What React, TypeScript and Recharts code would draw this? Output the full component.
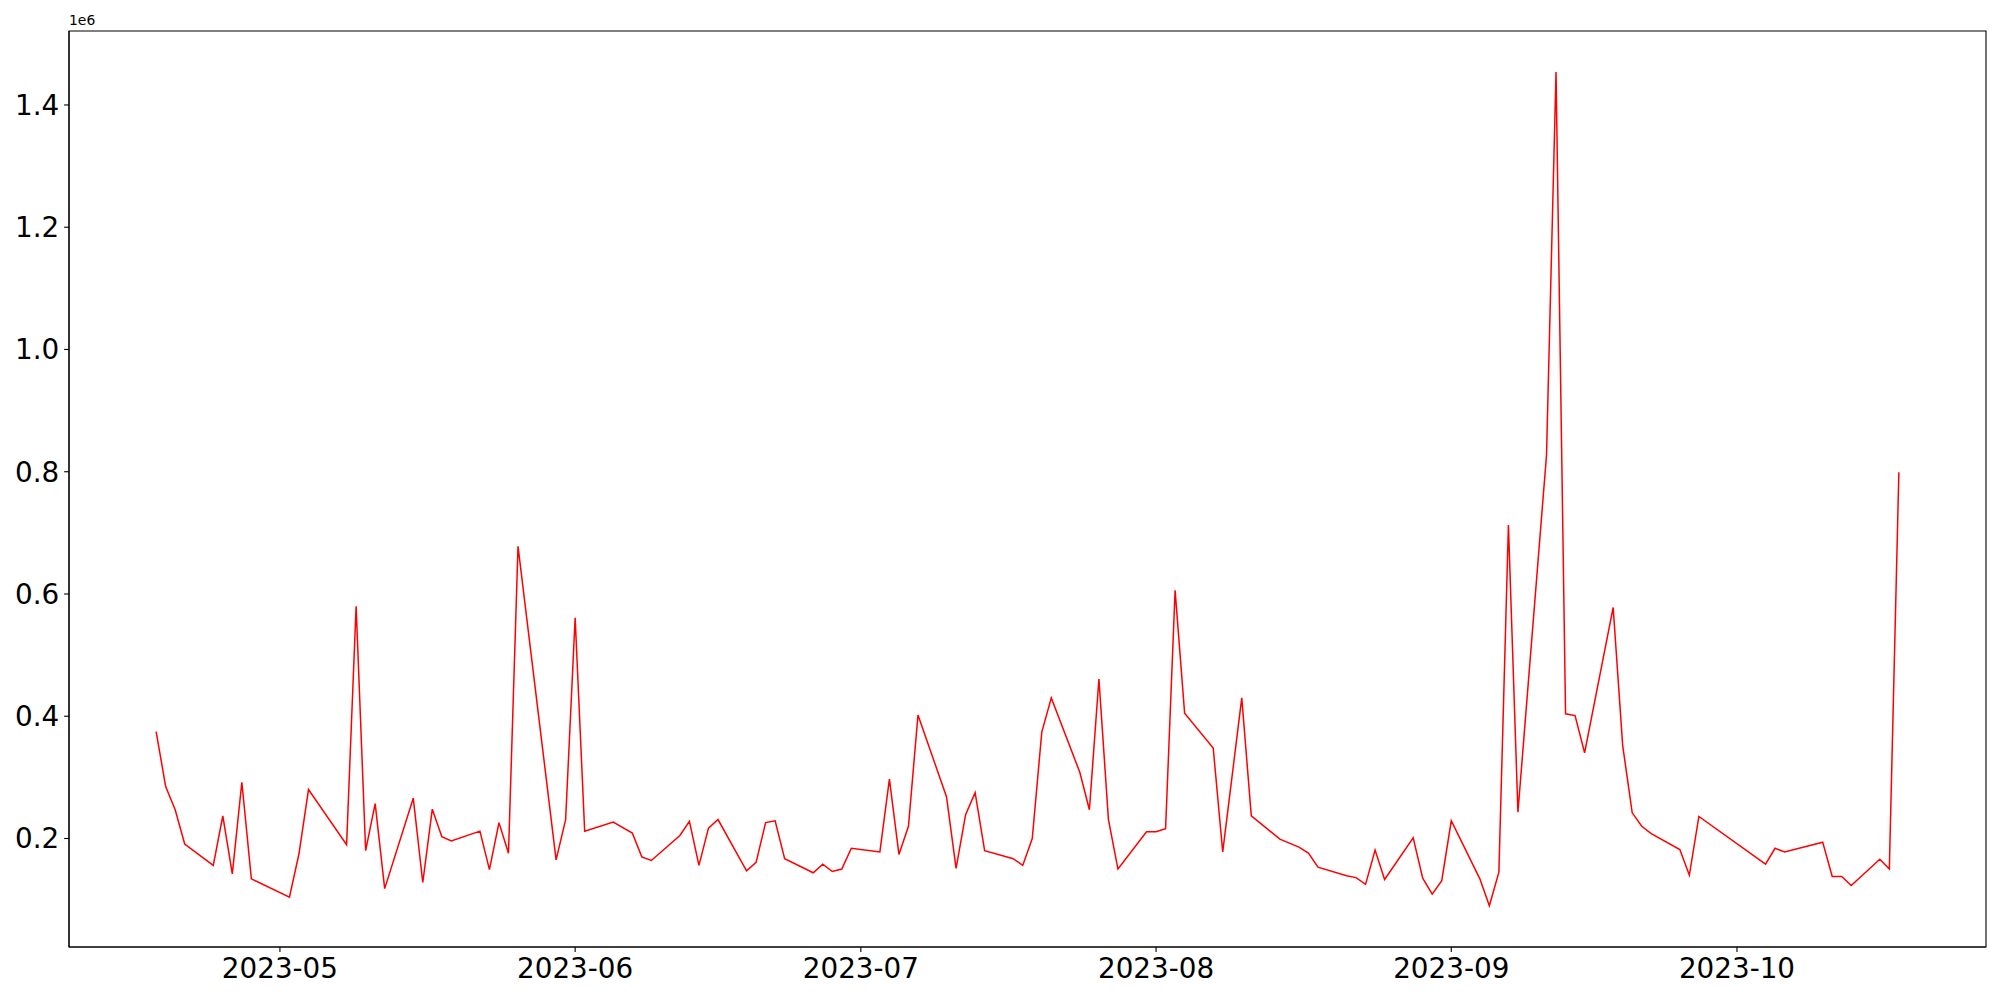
import { LineChart, Line, XAxis, YAxis, ReferenceArea } from 'recharts'

// trading days with a reading (some days missing in the source)
const dates = [
  '2023-04-18', '2023-04-19', '2023-04-20', '2023-04-21', '2023-04-24', '2023-04-25', '2023-04-26', '2023-04-27', '2023-04-28',
  '2023-05-02', '2023-05-03', '2023-05-04', '2023-05-08', '2023-05-09', '2023-05-10', '2023-05-11', '2023-05-12',
  '2023-05-15', '2023-05-16', '2023-05-17', '2023-05-18', '2023-05-19', '2023-05-22', '2023-05-23', '2023-05-24',
  '2023-05-25', '2023-05-26', '2023-05-30', '2023-05-31', '2023-06-01', '2023-06-02', '2023-06-05', '2023-06-07',
  '2023-06-08', '2023-06-09', '2023-06-12', '2023-06-13', '2023-06-14', '2023-06-15', '2023-06-16', '2023-06-19',
  '2023-06-20', '2023-06-21', '2023-06-22', '2023-06-23', '2023-06-26', '2023-06-27', '2023-06-28', '2023-06-29',
  '2023-06-30', '2023-07-03', '2023-07-04', '2023-07-05', '2023-07-06', '2023-07-07', '2023-07-10', '2023-07-11',
  '2023-07-12', '2023-07-13', '2023-07-14', '2023-07-17', '2023-07-18', '2023-07-19', '2023-07-20', '2023-07-21',
  '2023-07-24', '2023-07-25', '2023-07-26', '2023-07-27', '2023-07-28', '2023-07-31', '2023-08-01', '2023-08-02',
  '2023-08-03', '2023-08-04', '2023-08-07', '2023-08-08', '2023-08-10', '2023-08-11', '2023-08-14', '2023-08-16',
  '2023-08-17', '2023-08-18', '2023-08-21', '2023-08-22', '2023-08-23', '2023-08-24', '2023-08-25', '2023-08-28',
  '2023-08-29', '2023-08-30', '2023-08-31', '2023-09-01', '2023-09-04', '2023-09-05', '2023-09-06', '2023-09-07',
  '2023-09-08', '2023-09-11', '2023-09-12', '2023-09-13', '2023-09-14', '2023-09-15', '2023-09-18', '2023-09-19',
  '2023-09-20', '2023-09-21', '2023-09-22', '2023-09-25', '2023-09-26', '2023-09-27', '2023-10-04', '2023-10-05',
  '2023-10-06', '2023-10-10', '2023-10-11', '2023-10-12', '2023-10-13', '2023-10-16', '2023-10-17', '2023-10-18',
]

const values = [
  375000, 285000, 247000, 191000, 156000, 237000, 142000, 292000, 134000,
  104000, 175000, 280000, 190000, 580000, 180000, 257000, 118000,
  266000, 128000, 248000, 203000, 196000, 212000, 149000, 226000,
  176000, 678000, 165000, 231000, 561000, 212000, 227000, 209000,
  170000, 164000, 205000, 228000, 156000, 217000, 231000, 147000,
  161000, 226000, 229000, 167000, 144000, 158000, 146000, 150000,
  184000, 178000, 297000, 174000, 220000, 402000, 268000, 151000,
  239000, 275000, 180000, 167000, 156000, 200000, 374000, 430000,
  308000, 247000, 461000, 231000, 150000, 211000, 211000, 216000,
  606000, 405000, 348000, 178000, 430000, 237000, 199000, 186000,
  176000, 153000, 139000, 136000, 125000, 181000, 133000, 201000,
  135000, 109000, 131000, 229000, 134000, 90000, 145000, 713000,
  243000, 827000, 1454000, 404000, 401000, 340000, 578000, 352000,
  242000, 220000, 208000, 182000, 140000, 236000, 158000, 184000,
  178000, 194000, 138000, 138000, 123000, 166000, 150000, 799000,
]

const monthTicks = ['2023-05-01', '2023-06-01', '2023-07-01', '2023-08-01', '2023-09-01', '2023-10-01']
const yTicks = [200000, 400000, 600000, 800000, 1000000, 1200000, 1400000]

const ts = (d: string) => Date.parse(d + 'T00:00:00Z')

const data = dates.map((d, i) => ({ t: ts(d), v: values[i] }))

// matplotlib style 5% margins
const tMin = data[0].t
const tMax = data[data.length - 1].t
const pad = (tMax - tMin) * 0.05
const xDomain = [tMin - pad, tMax + pad]
const yDomain = [22500, 1521000]

const font = '"DejaVu Sans", sans-serif'

const fmtMonth = (t: number) => {
  const d = new Date(t)
  return `${d.getUTCFullYear()}-${String(d.getUTCMonth() + 1).padStart(2, '0')}`
}

export default function App() {
  return (
    <div style={{ position: 'absolute', left: 0, top: 0, width: 2000, height: 1000, background: '#fff', fontFamily: font }}>
      <div style={{ position: 'absolute', left: 69, top: 12, fontSize: 13.9, lineHeight: '16px', color: '#000' }}>1e6</div>
      <LineChart width={2000} height={1000} data={data} margin={{ top: 31, right: 14, bottom: 0, left: 0 }}>
        <XAxis
          dataKey="t"
          type="number"
          scale="linear"
          domain={xDomain}
          allowDataOverflow
          ticks={monthTicks.map(ts)}
          tickFormatter={fmtMonth}
          height={53}
          tickSize={4.9}
          tickMargin={6}
          axisLine={{ stroke: '#000', strokeWidth: 1.1 }}
          tickLine={{ stroke: '#000', strokeWidth: 1.1 }}
          tick={{ fill: '#000', fontSize: 27.8, fontFamily: font }}
        />
        <YAxis
          type="number"
          domain={yDomain}
          allowDataOverflow
          ticks={yTicks}
          tickFormatter={(v: number) => (v / 1e6).toFixed(1)}
          width={69}
          tickSize={4.9}
          tickMargin={4.9}
          axisLine={{ stroke: '#000', strokeWidth: 1.1 }}
          tickLine={{ stroke: '#000', strokeWidth: 1.1 }}
          tick={{ fill: '#000', fontSize: 27.8, fontFamily: font }}
        />
        {/* frame around the plot */}
        <ReferenceArea
          x1={xDomain[0]}
          x2={xDomain[1]}
          y1={yDomain[0]}
          y2={yDomain[1]}
          fill="none"
          stroke="#000"
          strokeWidth={1.1}
          ifOverflow="visible"
        />
        <Line
          dataKey="v"
          type="linear"
          stroke="#ff0000"
          strokeWidth={1.5}
          dot={false}
          activeDot={false}
          isAnimationActive={false}
        />
      </LineChart>
    </div>
  )
}
